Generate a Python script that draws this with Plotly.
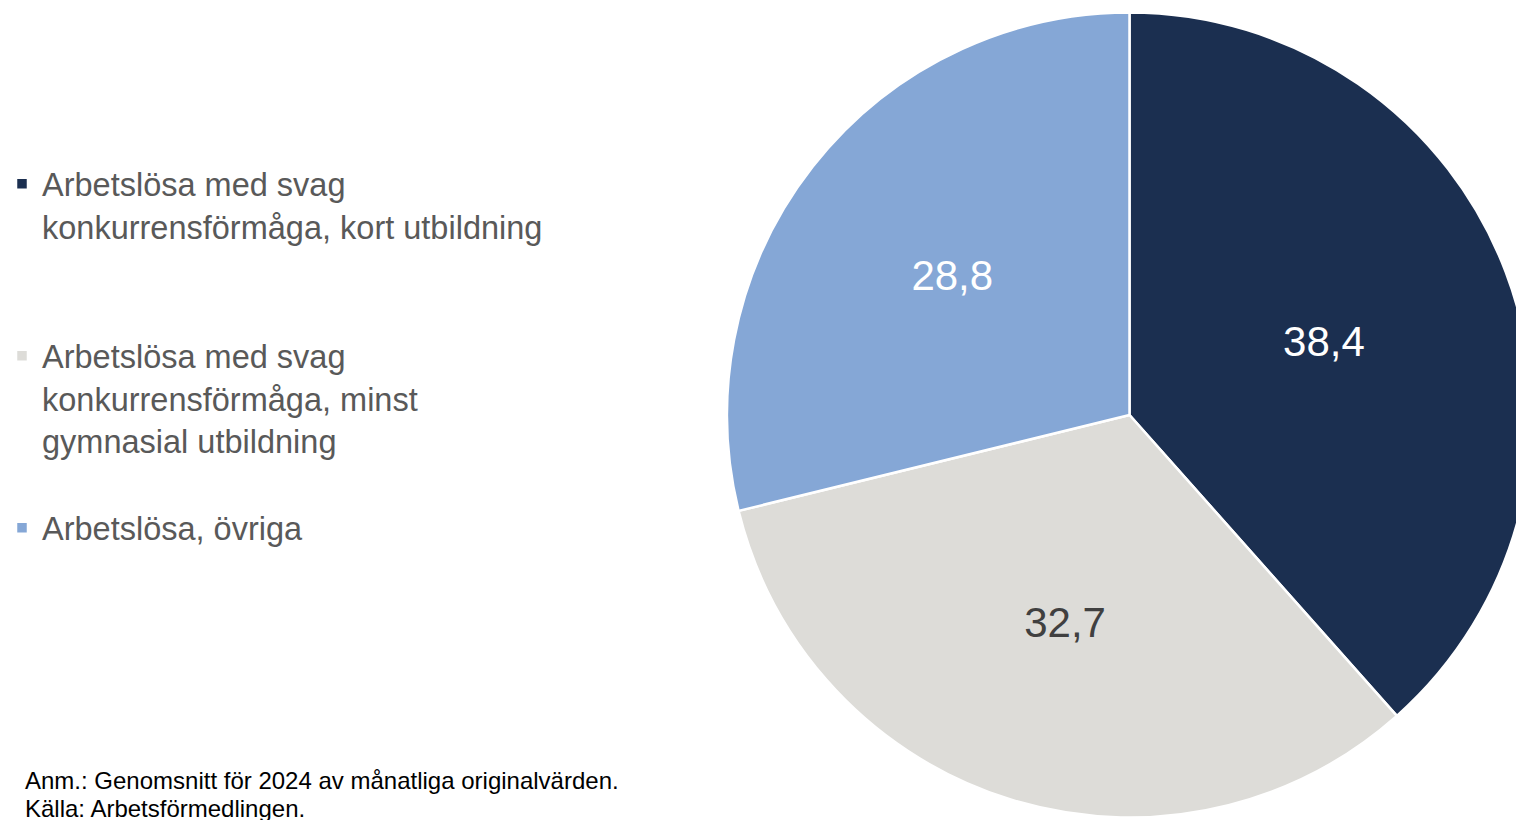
import plotly.graph_objects as go

categories = [
    "Arbetslösa med svag<br>konkurrensförmåga, kort utbildning",
    "Arbetslösa med svag<br>konkurrensförmåga, minst<br>gymnasial utbildning",
    "Arbetslösa, övriga",
]
values = [38.4, 32.7, 28.8]
colors = ["#1B2F50", "#DDDCD8", "#85A7D6"]
text_colors = ["#FFFFFF", "#404040", "#FFFFFF"]
# trailing blank lines to reproduce legend spacing
legend_pad = ["<br> <br> ", "<br> ", ""]
notes = ["Anm.: Genomsnitt för 2024 av månatliga originalvärden.", "Källa: Arbetsförmedlingen."]

labels_txt = [f"{v:.1f}".replace(".", ",") for v in values]

W, H = 1524, 820
FONT = "Liberation Sans, Arial"
# pie domain in figure pixels
px0, px1 = 719, 1524
cy, r = 407, (1524 - 719) / 2
fig = go.Figure(go.Pie(
    labels=[c + p for c, p in zip(categories, legend_pad)],
    values=values,
    text=labels_txt,
    textinfo="text",
    textposition="inside",
    insidetextorientation="horizontal",
    textfont=dict(family=FONT, size=42, color=text_colors),
    marker=dict(colors=colors, line=dict(color="#FFFFFF", width=2.5)),
    sort=False,
    direction="clockwise",
    rotation=0,
    hoverinfo="skip",
    domain=dict(x=[px0 / W, px1 / W], y=[max(0, 1 - (cy + r) / H), min(1, 1 - (cy - r) / H)]),
))

fig.update_layout(
    width=W, height=H,
    margin=dict(l=0, r=0, t=0, b=0, autoexpand=False),
    paper_bgcolor="#FFFFFF",
    plot_bgcolor="#FFFFFF",
    font=dict(family=FONT, color="#595959"),
    legend=dict(
        x=-6 / W, y=1 - 148 / H, xanchor="left", yanchor="top",
        font=dict(family=FONT, size=32.5, color="#595959"),
        valign="top",
        itemclick=False, itemdoubleclick=False,
        bgcolor="rgba(0,0,0,0)",
    ),
    showlegend=True,
    annotations=[
        dict(text=t, x=15 / W, y=1 - yy / H, xref="paper", yref="paper",
             xanchor="left", yanchor="middle", align="left", showarrow=False,
             font=dict(family=FONT, size=24, color="#000000"))
        for t, yy in zip(notes, [772, 800])
    ],
)

fig.write_html("out.html")
